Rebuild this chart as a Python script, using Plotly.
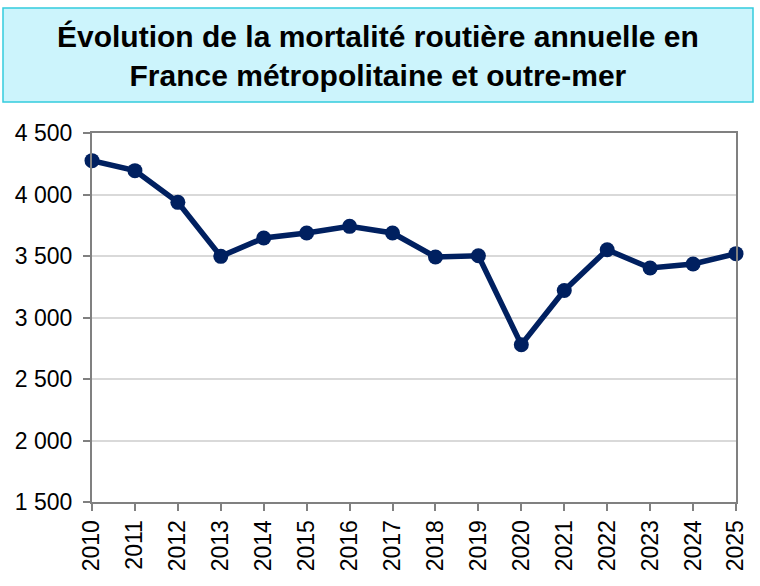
import plotly.graph_objects as go

years = [str(y) for y in range(2010, 2026)]
deaths = [4275, 4194, 3936, 3497, 3646, 3687, 3741, 3687, 3492, 3502, 2779, 3220, 3551, 3402, 3435, 3519]
y_ticks = [1500, 2000, 2500, 3000, 3500, 4000, 4500]
y_tick_labels = ["1 500", "2 000", "2 500", "3 000", "3 500", "4 000", "4 500"]
title_text = "Évolution de la mortalité routière annuelle en<br>France métropolitaine et outre-mer"

W, H = 760, 586
L, R, T, B = 92, 24, 133, 84
pw, ph = W - L - R, H - T - B

def px(x):
    return (x - L) / pw

def py(y):
    return (H - B - y) / ph

fig = go.Figure()
fig.add_trace(go.Scatter(
    x=years, y=deaths, mode="lines+markers",
    line=dict(color="#002060", width=5.5),
    marker=dict(color="#002060", size=15),
    showlegend=False, cliponaxis=False,
))

fig.update_layout(
    width=W, height=H,
    margin=dict(l=L, r=R, t=T, b=B),
    paper_bgcolor="white", plot_bgcolor="white",
    font=dict(family="Liberation Sans, Arial, sans-serif", color="black"),
    xaxis=dict(
        type="category", range=[0, 15],
        showline=True, linecolor="#808080", linewidth=2, mirror=True,
        ticks="outside", ticklen=7, tickcolor="#808080", tickwidth=2,
        tickangle=-90, tickfont=dict(size=23),
        showgrid=False, zeroline=False,
    ),
    yaxis=dict(
        range=[1500, 4500], tickvals=y_ticks, ticktext=y_tick_labels,
        showline=True, linecolor="#808080", linewidth=2, mirror=True,
        ticks="outside", ticklen=7, tickcolor="#808080", tickwidth=2,
        tickfont=dict(size=23), ticklabelstandoff=6,
        showgrid=True, gridcolor="#D9D9D9", gridwidth=2, zeroline=False,
    ),
    shapes=[dict(
        type="rect", xref="paper", yref="paper",
        x0=px(3), x1=px(753), y0=py(102), y1=py(8),
        fillcolor="#CCF4FC", line=dict(color="#33CCDD", width=1.5),
        layer="below",
    )],
    annotations=[dict(
        text="<b>" + title_text + "</b>", xref="paper", yref="paper",
        x=px(378), y=py(56), xanchor="center", yanchor="middle",
        showarrow=False, font=dict(size=30, color="black"),
    )],
)

fig.write_html("out.html")
